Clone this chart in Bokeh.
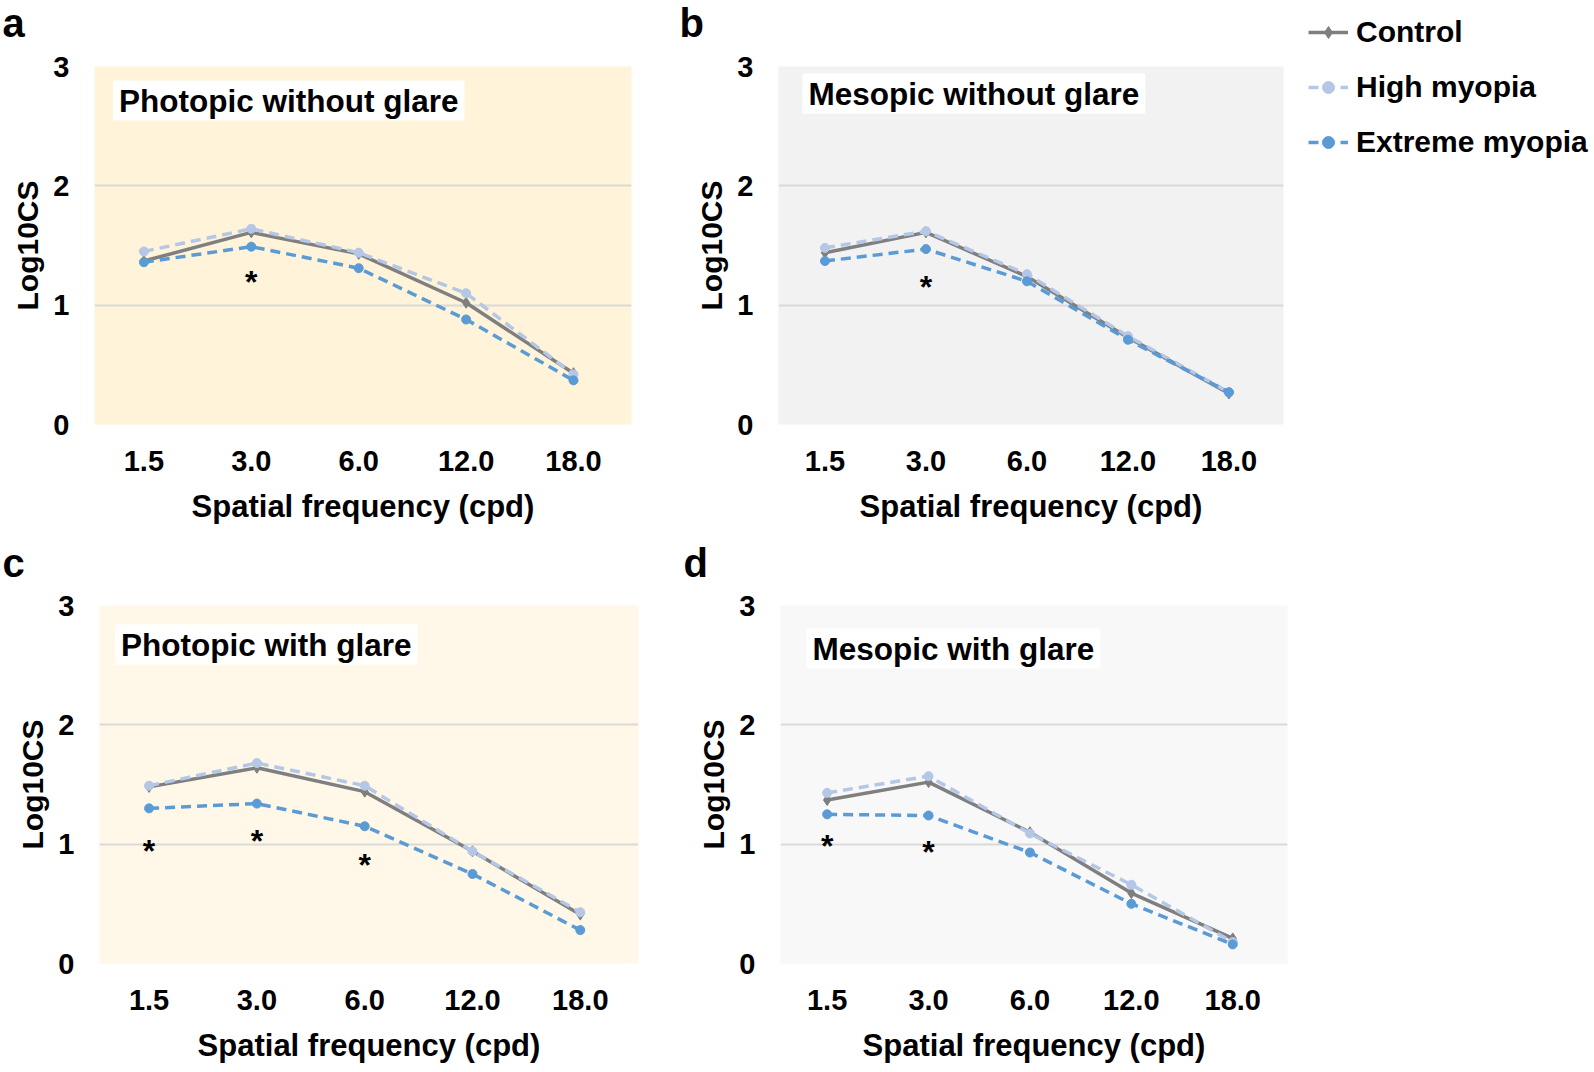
from bokeh.plotting import figure
from bokeh.models import Range1d, FixedTicker, Label, Legend, LegendItem
from bokeh.layouts import column, row
from bokeh.embed import file_html
from bokeh.resources import INLINE
from bokeh.core.properties import value

# ---------------- data ----------------
freq_labels = ["1.5", "3.0", "6.0", "12.0", "18.0"]
series_names = ["Control", "High myopia", "Extreme myopia"]

a_control = [1.37, 1.61, 1.43, 1.02, 0.43]
a_high = [1.45, 1.64, 1.44, 1.10, 0.42]
a_extreme = [1.36, 1.49, 1.31, 0.88, 0.37]
a_star_freq = ["3.0"]
a_star_y = [1.26]

b_control = [1.44, 1.61, 1.24, 0.73, 0.26]
b_high = [1.48, 1.62, 1.26, 0.74, 0.27]
b_extreme = [1.37, 1.47, 1.20, 0.71, 0.27]
b_star_freq = ["3.0"]
b_star_y = [1.22]

c_control = [1.48, 1.64, 1.44, 0.94, 0.41]
c_high = [1.49, 1.68, 1.49, 0.94, 0.43]
c_extreme = [1.30, 1.34, 1.15, 0.75, 0.28]
c_star_freq = ["1.5", "3.0", "6.0"]
c_star_y = [1.01, 1.09, 0.89]

d_control = [1.37, 1.52, 1.10, 0.59, 0.21]
d_high = [1.43, 1.57, 1.09, 0.66, 0.18]
d_extreme = [1.25, 1.24, 0.93, 0.50, 0.16]
d_star_freq = ["1.5", "3.0"]
d_star_y = [1.05, 1.00]

y_ticks = [0, 1, 2, 3]
x_title = "Spatial frequency (cpd)"
y_title = "Log10CS"
panel_titles = ["Photopic without glare", "Mesopic without glare",
                "Photopic with glare", "Mesopic with glare"]
panel_letters = ["a", "b", "c", "d"]

FONT = "Liberation Sans"
COLORS = ["#7F7F7F", "#B4C7E7", "#5B9BD5"]
DASHES = ["solid", "10 6", "10 6"]
MARKERS = ["diamond", "circle", "circle"]
LETTER_SIZE = 40
LETTER_DESCENT = 0.212 * LETTER_SIZE


def blank(width, height, y_range=(0, 1)):
    p = figure(width=width, height=height, min_border=0,
               x_range=Range1d(0, 1), y_range=Range1d(*y_range),
               x_axis_location=None, y_axis_location=None,
               output_backend="svg", toolbar_location=None,
               outline_line_color=None, border_fill_color="white",
               background_fill_color="white")
    p.grid.visible = False
    return p


def letter_strip(width, height, letter, lx, baseline_from_top):
    p = blank(width, height)
    p.add_layout(Label(x=lx, y=height - baseline_from_top - LETTER_DESCENT,
                       x_units="screen", y_units="screen", text=letter,
                       text_font=FONT, text_font_size=f"{LETTER_SIZE}px",
                       text_font_style="bold", text_color="black",
                       anchor="bottom_left", text_line_height=1.0))
    return p


def add_series(p, series):
    xs = list(range(len(freq_labels)))
    rends = []
    for vals, col, dash, mk in zip(series, COLORS, DASHES, MARKERS):
        lr = p.line(xs, vals, line_color=col, line_width=3.5, line_dash=dash)
        sr = p.scatter(xs, vals, marker=mk, size=11 if mk == "diamond" else 9,
                       fill_color=col, line_color=col)
        rends.append([lr, sr])
    return rends


def make_panel(width, height, left, right, top, bottom, bg,
               series, star_freq, star_y, title, title_x, title_top):
    frame_h = height - top - bottom
    p = figure(width=width, height=height,
               min_border_left=left, min_border_right=right,
               min_border_top=top, min_border_bottom=bottom,
               x_range=Range1d(-0.46, 4.54), y_range=Range1d(0, 3),
               output_backend="svg", toolbar_location=None,
               background_fill_color=bg, border_fill_color="white",
               outline_line_color=None)
    add_series(p, series)
    sx = [freq_labels.index(f) for f in star_freq]
    p.text(sx, star_y, text=["*"] * len(sx), text_font=value(FONT),
           text_font_size="32px", text_font_style="bold", text_color="black",
           text_align="center", text_baseline="middle", y_offset=8)

    p.xgrid.grid_line_color = None
    p.ygrid.grid_line_color = "#D9D9D9"
    p.ygrid.grid_line_width = 2
    p.ygrid.ticker = FixedTicker(ticks=y_ticks)

    xs = list(range(len(freq_labels)))
    p.xaxis.ticker = FixedTicker(ticks=xs)
    p.xaxis.major_label_overrides = {i: s for i, s in enumerate(freq_labels)}
    p.yaxis.ticker = FixedTicker(ticks=y_ticks)
    for ax in (p.xaxis[0], p.yaxis[0]):
        ax.axis_line_color = None
        ax.major_tick_line_color = None
        ax.minor_tick_line_color = None
        ax.major_tick_out = 0
        ax.major_tick_in = 0
        ax.major_label_text_font = FONT
        ax.major_label_text_font_style = "bold"
        ax.major_label_text_font_size = "29px"
        ax.major_label_text_color = "black"
        ax.axis_label_text_font = FONT
        ax.axis_label_text_font_style = "bold"
        ax.axis_label_text_color = "black"
    p.xaxis.axis_label = x_title
    p.yaxis.axis_label = y_title
    p.xaxis.major_label_text_line_height = 1.0
    p.xaxis.axis_label_text_line_height = 1.0
    p.xaxis.axis_label_text_font_size = "31px"
    p.yaxis.axis_label_text_font_size = "30px"
    p.xaxis.major_label_standoff = 26
    p.xaxis.axis_label_standoff = 15
    p.yaxis.major_label_standoff = 25
    p.yaxis.axis_label_standoff = 6

    p.add_layout(Label(x=title_x, y=frame_h - title_top,
                       x_units="screen", y_units="screen", text=title,
                       text_font=FONT, text_font_size="31.5px",
                       text_font_style="bold", text_color="black",
                       background_fill_color="white", anchor="top_left",
                       text_line_height=1.0, padding=(6, 2)))
    return p


# ---- top row (page y 0..540) ----
sa = letter_strip(660, 45, panel_letters[0], 2, 36.4)
sb = letter_strip(626, 45, panel_letters[1], 19, 36.4)
pa = make_panel(660, 495, 94, 29, 21, 116, "#FFF3D9",
                [a_control, a_high, a_extreme], a_star_freq, a_star_y,
                panel_titles[0], 18.5, 14)
pb = make_panel(626, 495, 118, 3, 21, 116, "#F2F2F2",
                [b_control, b_high, b_extreme], b_star_freq, b_star_y,
                panel_titles[1], 24, 7)

# legend canvas to the right of panel b; its copies of the series lie
# outside its view, so only the legend entries are seen
pleg = blank(308, 540, y_range=(10, 11))
leg_rends = add_series(pleg, [b_control, b_high, b_extreme])
legend = Legend(items=[LegendItem(label=n, renderers=r)
                       for n, r in zip(series_names, leg_rends)],
                location=(22, 380.75), glyph_width=40, glyph_height=30,
                label_height=30, spacing=21, padding=0, margin=0,
                label_standoff=8, border_line_color=None,
                background_fill_alpha=0, label_text_font=FONT,
                label_text_font_size="30px", label_text_font_style="bold",
                label_text_color="black")
pleg.add_layout(legend)

# ---- bottom row (page y 540..1072) ----
sc = letter_strip(660, 45, panel_letters[2], 2, 36.4)
sd = letter_strip(934, 45, panel_letters[3], 23, 36.4)
pc = make_panel(660, 487, 99, 22, 20, 109, "#FFF8E8",
                [c_control, c_high, c_extreme], c_star_freq, c_star_y,
                panel_titles[2], 15.5, 19)
pd = make_panel(934, 487, 120, 307, 20, 109, "#F8F8F8",
                [d_control, d_high, d_extreme], d_star_freq, d_star_y,
                panel_titles[3], 26, 23)

top = row(column(row(sa, sb), row(pa, pb)), pleg)
bottom = column(row(sc, sd), row(pc, pd))
layout = column(top, bottom)
open("out.html", "w").write(file_html(layout, INLINE))
